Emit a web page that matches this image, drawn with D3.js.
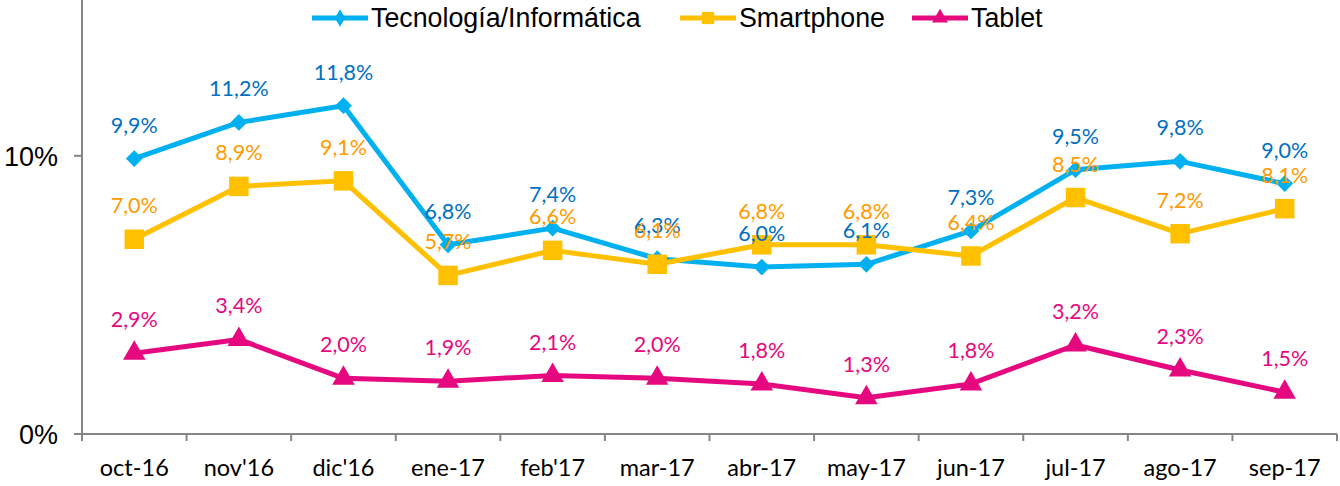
<!DOCTYPE html>
<html>
<head>
<meta charset="utf-8">
<script src="https://cdn.jsdelivr.net/npm/d3@7"></script>
<style>
  body { margin: 0; background: #fff; }
  svg { display: block; }
</style>
</head>
<body>
<div id="chart"></div>
<script>
// data
const months = ["oct-16", "nov'16", "dic'16", "ene-17", "feb'17", "mar-17", "abr-17", "may-17", "jun-17", "jul-17", "ago-17", "sep-17"];
const tecnologia = [9.9, 11.2, 11.8, 6.8, 7.4, 6.3, 6.0, 6.1, 7.3, 9.5, 9.8, 9.0];
const smartphone = [7.0, 8.9, 9.1, 5.7, 6.6, 6.1, 6.8, 6.8, 6.4, 8.5, 7.2, 8.1];
const tablet = [2.9, 3.4, 2.0, 1.9, 2.1, 2.0, 1.8, 1.3, 1.8, 3.2, 2.3, 1.5];
const yTicks = [0, 10];

const width = 1340, height = 486;
const plotLeft = 82, plotRight = 1337, plotTop = 0, plotBottom = 434;

const svg = d3.select("#chart").append("svg")
  .attr("width", width)
  .attr("height", height);

const x = d3.scaleBand().domain(months).range([plotLeft, plotRight]);
const y = d3.scaleLinear().domain([0, 15.6]).range([plotBottom, plotTop]);

// axes
const axisColor = "#868686";
svg.append("line")
  .attr("x1", plotLeft).attr("x2", plotLeft).attr("y1", plotTop).attr("y2", plotBottom + 6)
  .attr("stroke", axisColor).attr("stroke-width", 2);
svg.append("line")
  .attr("x1", plotLeft - 8).attr("x2", plotRight).attr("y1", plotBottom).attr("y2", plotBottom)
  .attr("stroke", axisColor).attr("stroke-width", 2);

svg.selectAll(".ytick").data(yTicks).enter().append("line")
  .attr("x1", plotLeft - 8).attr("x2", plotLeft)
  .attr("y1", d => y(d)).attr("y2", d => y(d))
  .attr("stroke", axisColor).attr("stroke-width", 2);

svg.selectAll(".ylab").data(yTicks).enter().append("text")
  .attr("x", 58).attr("y", d => y(d) + 10)
  .attr("text-anchor", "end")
  .attr("font-family", "Liberation Sans, Arial, sans-serif")
  .attr("font-size", "27px")
  .attr("fill", "#000")
  .text(d => d + "%");

const bounds = months.map(m => x(m)).concat([plotRight]);
svg.selectAll(".xtick").data(bounds).enter().append("line")
  .attr("x1", d => d).attr("x2", d => d)
  .attr("y1", plotBottom).attr("y2", plotBottom + 7)
  .attr("stroke", axisColor).attr("stroke-width", 2);

svg.selectAll(".xlab").data(months).enter().append("text")
  .attr("x", d => x(d) + x.bandwidth() / 2)
  .attr("y", 476)
  .attr("text-anchor", "middle")
  .attr("font-family", "Lato, sans-serif")
  .attr("font-size", "23.5px")
  .attr("fill", "#000")
  .text(d => d);

const series = [
  { name: "Tecnología/Informática", values: tecnologia, line: "#00B0F0", label: "#0070C0", shape: d3.symbolDiamond2, size: 180, legShape: d3.symbolDiamond, legSize: 90 },
  { name: "Smartphone", values: smartphone, line: "#FFC000", label: "#FF9A00", shape: d3.symbolSquare, size: 380, legShape: d3.symbolSquare, legSize: 150 },
  { name: "Tablet", values: tablet, line: "#E5087E", label: "#E5087E", shape: d3.symbolTriangle, size: 220, legShape: d3.symbolTriangle, legSize: 110 }
];

const line = d3.line()
  .x((d, i) => x(months[i]) + x.bandwidth() / 2)
  .y(d => y(d));

const fmt = v => v.toFixed(1).replace(".", ",") + "%";

series.forEach(s => {
  svg.append("path")
    .attr("d", line(s.values))
    .attr("fill", "none")
    .attr("stroke", s.line)
    .attr("stroke-width", 5)
    .attr("stroke-linejoin", "round");

  svg.selectAll(null).data(s.values).enter().append("path")
    .attr("d", d3.symbol().type(s.shape).size(s.size))
    .attr("transform", (d, i) => "translate(" + (x(months[i]) + x.bandwidth() / 2) + "," + y(d) + ")")
    .attr("fill", s.line);
});

// data labels drawn after all lines
series.forEach(s => {
  svg.selectAll(null).data(s.values).enter().append("text")
    .attr("x", (d, i) => x(months[i]) + x.bandwidth() / 2)
    .attr("y", d => y(d) - 26)
    .attr("text-anchor", "middle")
    .attr("font-family", "Lato, sans-serif")
    .attr("font-size", "21.5px")
    .attr("fill", s.label)
    .text(d => fmt(d));
});

// legend
const legendX = [312, 680, 912];
series.forEach((s, i) => {
  const g = svg.append("g").attr("transform", "translate(" + legendX[i] + ",18)");
  g.append("line").attr("x1", 0).attr("x2", 56).attr("y1", 0).attr("y2", 0)
    .attr("stroke", s.line).attr("stroke-width", 5);
  g.append("path")
    .attr("d", d3.symbol().type(s.legShape).size(s.legSize))
    .attr("transform", "translate(28,0)")
    .attr("fill", s.line);
  g.append("text")
    .attr("x", 59).attr("y", 9)
    .attr("font-family", "Liberation Sans Narrow, Arial Narrow, sans-serif")
    .attr("font-size", "26.8px")
    .attr("fill", "#000")
    .text(s.name);
});
</script>
</body>
</html>
